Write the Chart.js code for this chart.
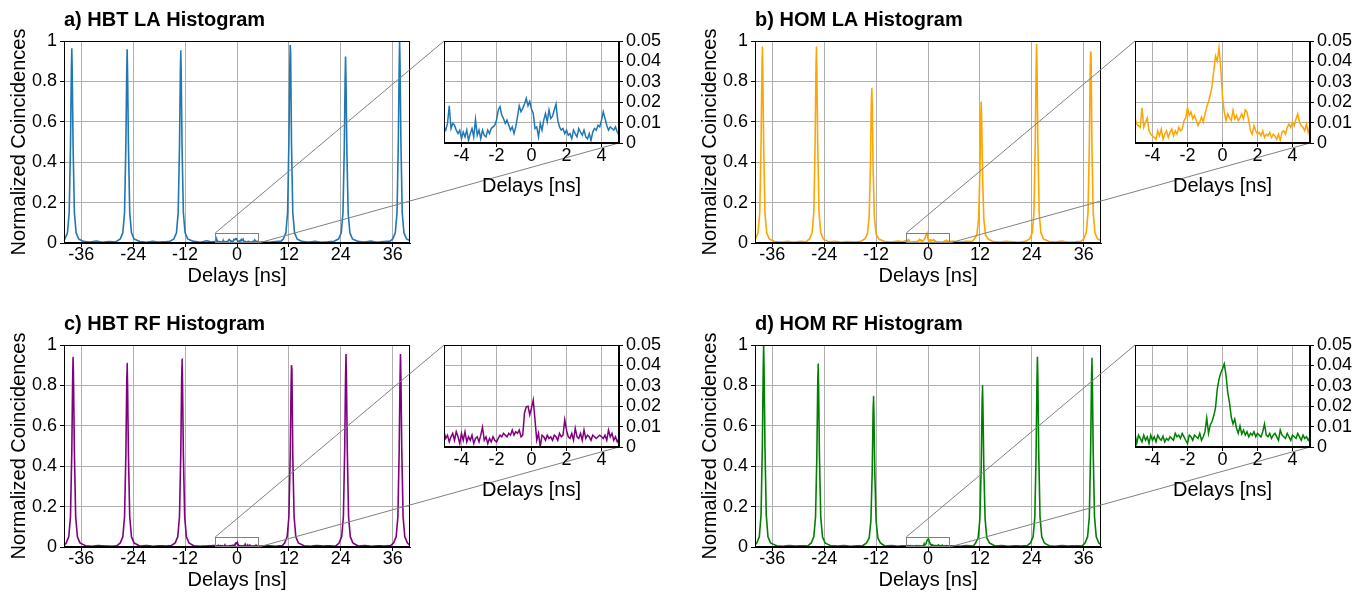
<!DOCTYPE html>
<html>
<head>
<meta charset="utf-8">
<script src="https://cdn.jsdelivr.net/npm/chart.js@4.4.0/dist/chart.umd.min.js"></script>
<style>
  html, body { margin: 0; padding: 0; background: #fff; }
  #page { position: relative; width: 1364px; height: 593px; overflow: hidden; }
  #page canvas { position: absolute; }
</style>
</head>
<body>
<div id="page"></div>
<script>
// tick positions
const mainTicks = [-36, -24, -12, 0, 12, 24, 36];
const mainYTicks = [0, 0.2, 0.4, 0.6, 0.8, 1];
const insetTicks = [-4, -2, 0, 2, 4];
const insetYTicks = [0, 0.01, 0.02, 0.03, 0.04, 0.05];
const zoomWindow = [-5, 5];  // delays shown in the inset
const zoomTop = 0.05;

// inset histogram bins (ns)
const insetDelays = [
  -5.0, -4.9, -4.8, -4.7, -4.6, -4.5, -4.4, -4.3, -4.2, -4.1,
  -4.0, -3.9, -3.8, -3.7, -3.6, -3.5, -3.4, -3.3, -3.2, -3.1,
  -3.0, -2.9, -2.8, -2.7, -2.6, -2.5, -2.4, -2.3, -2.2, -2.1,
  -2.0, -1.9, -1.8, -1.7, -1.6, -1.5, -1.4, -1.3, -1.2, -1.1,
  -1.0, -0.9, -0.8, -0.7, -0.6, -0.5, -0.4, -0.3, -0.2, -0.1,
  0.0, 0.1, 0.2, 0.3, 0.4, 0.5, 0.6, 0.7, 0.8, 0.9,
  1.0, 1.1, 1.2, 1.3, 1.4, 1.5, 1.6, 1.7, 1.8, 1.9,
  2.0, 2.1, 2.2, 2.3, 2.4, 2.5, 2.6, 2.7, 2.8, 2.9,
  3.0, 3.1, 3.2, 3.3, 3.4, 3.5, 3.6, 3.7, 3.8, 3.9,
  4.0, 4.1, 4.2, 4.3, 4.4, 4.5, 4.6, 4.7, 4.8, 4.9,
  5.0
];

// a) HBT LA
const insetA = [
  0.0079, 0.0063, 0.0096, 0.0182, 0.0071, 0.0096, 0.0087, 0.0063, 0.0046, 0.0063,
  0.0021, 0.0054, 0.0030, 0.0063, 0.0013, 0.0046, 0.0071, 0.0030, 0.0116, 0.0038,
  0.0063, 0.0021, 0.0063, 0.0038, 0.0030, 0.0063, 0.0046, 0.0071, 0.0079, 0.0087,
  0.0112, 0.0162, 0.0178, 0.0137, 0.0120, 0.0096, 0.0112, 0.0087, 0.0063, 0.0079,
  0.0046, 0.0079, 0.0129, 0.0182, 0.0153, 0.0170, 0.0191, 0.0219, 0.0182, 0.0203,
  0.0165, 0.0145, 0.0071, 0.0079, 0.0030, 0.0096, 0.0063, 0.0112, 0.0145, 0.0104,
  0.0162, 0.0120, 0.0132, 0.0162, 0.0191, 0.0112, 0.0079, 0.0063, 0.0071, 0.0046,
  0.0063, 0.0038, 0.0046, 0.0021, 0.0063, 0.0046, 0.0030, 0.0071, 0.0054, 0.0038,
  0.0063, 0.0030, 0.0021, 0.0046, 0.0013, 0.0054, 0.0071, 0.0063, 0.0087, 0.0079,
  0.0112, 0.0153, 0.0120, 0.0087, 0.0063, 0.0079, 0.0071, 0.0063, 0.0079, 0.0054,
  0.0038
];
const delaysA = [
  -40,
  -39.8, -39.2, -38.8, -38.5, -38.3, -38.2, -38.1, -37.9, -37.6, -37.2, -36.6,
  -35.5, -34, -32.5, -31, -29.5, -28,
  -27, -26.4, -26, -25.7, -25.5, -25.4, -25.3, -25.1, -24.8, -24.4, -23.8,
  -22.5, -21, -19.5, -18, -16.5, -15.5,
  -14.6, -14, -13.6, -13.3, -13.1, -13, -12.9, -12.7, -12.4, -12, -11.4,
  -10, -8.5, -7, -6,
  6, 7.5, 9, 10.2,
  10.7, 11.3, 11.7, 12, 12.2, 12.3, 12.4, 12.6, 12.9, 13.3, 13.9,
  15, 16.5, 18, 19.5, 21, 22.5,
  23.5, 24.1, 24.5, 24.8, 25, 25.1, 25.2, 25.4, 25.7, 26.1, 26.7,
  28, 29.5, 31, 32.5, 34, 35.4,
  36, 36.6, 37, 37.3, 37.5, 37.6, 37.7, 37.9, 38.2, 38.6, 39.2,
  40
];
const countsA = [
  0.012,
  0.02, 0.05, 0.15, 0.48, 0.85, 0.964, 0.85, 0.48, 0.15, 0.05, 0.02,
  0.008, 0.005, 0.009, 0.004, 0.007, 0.006,
  0.02, 0.05, 0.15, 0.48, 0.84, 0.959, 0.84, 0.48, 0.15, 0.05, 0.02,
  0.007, 0.004, 0.008, 0.005, 0.006, 0.009,
  0.02, 0.05, 0.15, 0.47, 0.84, 0.951, 0.84, 0.47, 0.15, 0.05, 0.02,
  0.008, 0.004, 0.011, 0.005,
  0.006, 0.004, 0.007, 0.009,
  0.02, 0.05, 0.15, 0.5, 0.86, 0.98, 0.94, 0.49, 0.15, 0.05, 0.02,
  0.008, 0.005, 0.008, 0.004, 0.006, 0.009,
  0.02, 0.05, 0.15, 0.46, 0.81, 0.923, 0.81, 0.46, 0.15, 0.05, 0.02,
  0.008, 0.005, 0.009, 0.004, 0.007, 0.009,
  0.02, 0.05, 0.15, 0.5, 0.88, 1.0, 0.88, 0.5, 0.15, 0.05, 0.02,
  0.012
];

// b) HOM LA
const insetB = [
  0.0123, 0.0093, 0.0085, 0.0077, 0.0173, 0.0077, 0.0102, 0.0123, 0.0060, 0.0043,
  0.0035, 0.0027, 0.0018, 0.0060, 0.0035, 0.0068, 0.0018, 0.0043, 0.0060, 0.0027,
  0.0052, 0.0068, 0.0035, 0.0060, 0.0043, 0.0077, 0.0060, 0.0068, 0.0110, 0.0123,
  0.0173, 0.0135, 0.0152, 0.0118, 0.0135, 0.0110, 0.0085, 0.0102, 0.0127, 0.0102,
  0.0143, 0.0177, 0.0202, 0.0235, 0.0277, 0.0352, 0.0427, 0.0402, 0.0468, 0.0368,
  0.0227, 0.0152, 0.0110, 0.0143, 0.0123, 0.0110, 0.0160, 0.0118, 0.0135, 0.0110,
  0.0123, 0.0143, 0.0118, 0.0163, 0.0152, 0.0110, 0.0060, 0.0043, 0.0085, 0.0060,
  0.0043, 0.0052, 0.0035, 0.0060, 0.0027, 0.0043, 0.0035, 0.0052, 0.0027, 0.0043,
  0.0035, 0.0018, 0.0043, 0.0013, 0.0052, 0.0060, 0.0043, 0.0077, 0.0093, 0.0077,
  0.0102, 0.0085, 0.0118, 0.0143, 0.0102, 0.0085, 0.0077, 0.0060, 0.0093, 0.0052,
  0.0090
];
const delaysB = [
  -40,
  -39.9, -39.3, -38.9, -38.6, -38.4, -38.3, -38.2, -38, -37.7, -37.3, -36.7,
  -35.5, -34, -32.5, -31, -29.5, -28.2,
  -27.4, -26.8, -26.4, -26.1, -25.9, -25.8, -25.7, -25.5, -25.2, -24.8, -24.2,
  -23, -21.5, -20, -18.5, -17, -15.5,
  -14.6, -14, -13.6, -13.3, -13.1, -13, -12.9, -12.7, -12.4, -12, -11.4,
  -10, -8.5, -7, -6,
  6, 7.5, 9, 10.2,
  10.7, 11.3, 11.7, 12, 12.2, 12.3, 12.4, 12.6, 12.9, 13.3, 13.9,
  15, 16.5, 18, 19.5, 21, 22.5,
  23.5, 24.1, 24.5, 24.8, 25, 25.1, 25.2, 25.4, 25.7, 26.1, 26.7,
  28, 29.5, 31, 32.5, 34, 35.4,
  36, 36.6, 37, 37.3, 37.5, 37.6, 37.7, 37.9, 38.2, 38.6, 39.2,
  40
];
const countsB = [
  0.014,
  0.02, 0.05, 0.15, 0.49, 0.86, 0.97, 0.86, 0.49, 0.15, 0.05, 0.02,
  0.007, 0.005, 0.008, 0.004, 0.009, 0.006,
  0.02, 0.05, 0.15, 0.49, 0.86, 0.97, 0.86, 0.49, 0.15, 0.05, 0.02,
  0.006, 0.008, 0.004, 0.007, 0.005, 0.008,
  0.02, 0.045, 0.13, 0.39, 0.70, 0.766, 0.70, 0.38, 0.13, 0.045, 0.02,
  0.007, 0.005, 0.010, 0.006,
  0.008, 0.005, 0.009, 0.007,
  0.02, 0.04, 0.12, 0.35, 0.62, 0.697, 0.62, 0.35, 0.12, 0.04, 0.02,
  0.007, 0.005, 0.008, 0.006, 0.004, 0.008,
  0.02, 0.05, 0.15, 0.5, 0.87, 0.985, 0.87, 0.5, 0.15, 0.05, 0.02,
  0.007, 0.005, 0.009, 0.004, 0.006, 0.009,
  0.02, 0.05, 0.15, 0.48, 0.84, 0.948, 0.935, 0.48, 0.15, 0.05, 0.02,
  0.012
];

// c) HBT RF
const insetC = [
  0.0075, 0.0042, 0.0058, 0.0025, 0.0050, 0.0067, 0.0033, 0.0075, 0.0050, 0.0017,
  0.0067, 0.0033, 0.0075, 0.0025, 0.0050, 0.0033, 0.0058, 0.0017, 0.0042, 0.0050,
  0.0025, 0.0058, 0.0097, 0.0033, 0.0050, 0.0017, 0.0042, 0.0025, 0.0050, 0.0033,
  0.0025, 0.0042, 0.0058, 0.0050, 0.0067, 0.0058, 0.0050, 0.0067, 0.0058, 0.0083,
  0.0058, 0.0075, 0.0067, 0.0083, 0.0050, 0.0058, 0.0167, 0.0197, 0.0200, 0.0158,
  0.0192, 0.0230, 0.0133, 0.0033, 0.0067, 0.0000, 0.0058, 0.0050, 0.0033, 0.0058,
  0.0042, 0.0050, 0.0033, 0.0058, 0.0050, 0.0033, 0.0067, 0.0050, 0.0058, 0.0133,
  0.0083, 0.0050, 0.0042, 0.0067, 0.0033, 0.0092, 0.0050, 0.0042, 0.0067, 0.0033,
  0.0083, 0.0042, 0.0058, 0.0050, 0.0033, 0.0058, 0.0050, 0.0042, 0.0050, 0.0058,
  0.0050, 0.0042, 0.0058, 0.0033, 0.0083, 0.0050, 0.0067, 0.0033, 0.0050, 0.0025,
  0.0042
];
const delaysC = [
  -40,
  -39.5, -38.9, -38.5, -38.2, -38, -37.9, -37.8, -37.6, -37.3, -36.9, -36.3,
  -35, -33.5, -32, -30.5, -29, -27.8,
  -27, -26.4, -26, -25.7, -25.5, -25.4, -25.3, -25.1, -24.8, -24.4, -23.8,
  -22.5, -21, -19.5, -18, -16.5, -15.2,
  -14.3, -13.7, -13.3, -13, -12.8, -12.7, -12.6, -12.4, -12.1, -11.7, -11.1,
  -10, -8.5, -7, -6,
  6, 7.5, 9, 10.5,
  11, 11.6, 12, 12.3, 12.5, 12.6, 12.7, 12.9, 13.2, 13.6, 14.2,
  15.5, 17, 18.5, 20, 21.5, 22.8,
  23.6, 24.2, 24.6, 24.9, 25.1, 25.2, 25.3, 25.5, 25.8, 26.2, 26.8,
  28, 29.5, 31, 32.5, 34, 35.5,
  36.2, 36.8, 37.2, 37.5, 37.7, 37.8, 37.9, 38.1, 38.4, 38.8, 39.4,
  40
];
const countsC = [
  0.008,
  0.02, 0.05, 0.15, 0.47, 0.83, 0.938, 0.83, 0.47, 0.15, 0.05, 0.02,
  0.006, 0.004, 0.007, 0.005, 0.004, 0.006,
  0.02, 0.05, 0.15, 0.45, 0.80, 0.908, 0.80, 0.45, 0.15, 0.05, 0.02,
  0.005, 0.007, 0.004, 0.006, 0.005, 0.007,
  0.02, 0.05, 0.15, 0.46, 0.82, 0.93, 0.82, 0.46, 0.15, 0.05, 0.02,
  0.006, 0.004, 0.005, 0.006,
  0.005, 0.006, 0.004, 0.007,
  0.02, 0.05, 0.15, 0.45, 0.79, 0.90, 0.88, 0.45, 0.15, 0.05, 0.02,
  0.006, 0.004, 0.007, 0.005, 0.006, 0.004,
  0.02, 0.05, 0.15, 0.48, 0.84, 0.955, 0.84, 0.48, 0.15, 0.05, 0.02,
  0.005, 0.007, 0.004, 0.006, 0.005, 0.007,
  0.02, 0.05, 0.15, 0.48, 0.84, 0.955, 0.84, 0.48, 0.15, 0.05, 0.02,
  0.008
];

// d) HOM RF
const insetD = [
  0.0067, 0.0017, 0.0058, 0.0042, 0.0025, 0.0058, 0.0033, 0.0050, 0.0017, 0.0058,
  0.0033, 0.0050, 0.0025, 0.0058, 0.0042, 0.0033, 0.0053, 0.0025, 0.0042, 0.0033,
  0.0050, 0.0042, 0.0033, 0.0067, 0.0050, 0.0058, 0.0042, 0.0067, 0.0050, 0.0033,
  0.0017, 0.0058, 0.0050, 0.0033, 0.0058, 0.0050, 0.0042, 0.0067, 0.0033, 0.0050,
  0.0075, 0.0142, 0.0067, 0.0108, 0.0125, 0.0153, 0.0192, 0.0283, 0.0333, 0.0363,
  0.0383, 0.0408, 0.0353, 0.0267, 0.0217, 0.0147, 0.0113, 0.0137, 0.0092, 0.0067,
  0.0103, 0.0063, 0.0083, 0.0058, 0.0075, 0.0050, 0.0067, 0.0058, 0.0075, 0.0050,
  0.0067, 0.0058, 0.0050, 0.0075, 0.0113, 0.0058, 0.0050, 0.0067, 0.0042, 0.0058,
  0.0067, 0.0050, 0.0033, 0.0083, 0.0058, 0.0050, 0.0042, 0.0067, 0.0050, 0.0033,
  0.0058, 0.0050, 0.0042, 0.0067, 0.0050, 0.0033, 0.0058, 0.0042, 0.0050, 0.0033,
  0.0050
];
const delaysD = [
  -40,
  -39.6, -39, -38.6, -38.3, -38.1, -38, -37.9, -37.7, -37.4, -37, -36.4,
  -35, -33.5, -32, -30.5, -29, -27.8,
  -27, -26.4, -26, -25.7, -25.5, -25.4, -25.3, -25.1, -24.8, -24.4, -23.8,
  -22.5, -21, -19.5, -18, -16.5, -15.2,
  -14.2, -13.6, -13.2, -12.9, -12.7, -12.6, -12.5, -12.3, -12, -11.6, -11,
  -10, -8.5, -7, -6,
  6, 7.5, 9, 10.5,
  11, 11.6, 12, 12.3, 12.5, 12.6, 12.7, 12.9, 13.2, 13.6, 14.2,
  15.5, 17, 18.5, 20, 21.5, 22.9,
  23.7, 24.3, 24.7, 25, 25.2, 25.3, 25.4, 25.6, 25.9, 26.3, 26.9,
  28, 29.5, 31, 32.5, 34, 35.6,
  36.3, 36.9, 37.3, 37.6, 37.8, 37.9, 38, 38.2, 38.5, 38.9, 39.5,
  40
];
const countsD = [
  0.010,
  0.02, 0.05, 0.16, 0.5, 0.88, 1.0, 0.88, 0.5, 0.16, 0.05, 0.02,
  0.006, 0.004, 0.007, 0.005, 0.006, 0.005,
  0.02, 0.05, 0.15, 0.45, 0.80, 0.906, 0.80, 0.45, 0.15, 0.05, 0.02,
  0.006, 0.005, 0.007, 0.004, 0.006, 0.005,
  0.02, 0.045, 0.13, 0.37, 0.66, 0.745, 0.66, 0.37, 0.13, 0.045, 0.02,
  0.005, 0.007, 0.004, 0.006,
  0.006, 0.004, 0.007, 0.005,
  0.02, 0.045, 0.14, 0.40, 0.70, 0.798, 0.70, 0.40, 0.14, 0.045, 0.02,
  0.005, 0.007, 0.004, 0.006, 0.005, 0.006,
  0.02, 0.05, 0.15, 0.47, 0.83, 0.942, 0.83, 0.47, 0.15, 0.05, 0.02,
  0.006, 0.004, 0.007, 0.005, 0.006, 0.005,
  0.02, 0.05, 0.15, 0.47, 0.82, 0.934, 0.82, 0.47, 0.15, 0.05, 0.02,
  0.010
];

const panels = [
  { title: "a) HBT LA Histogram", color: "#1f77b4", delays: delaysA, counts: countsA, inset: insetA, left: 0, top: 0 },
  { title: "b) HOM LA Histogram", color: "#ffa500", delays: delaysB, counts: countsB, inset: insetB, left: 691, top: 0 },
  { title: "c) HBT RF Histogram", color: "#800080", delays: delaysC, counts: countsC, inset: insetC, left: 0, top: 304 },
  { title: "d) HOM RF Histogram", color: "#008000", delays: delaysD, counts: countsD, inset: insetD, left: 691, top: 304 }
];

// inset plot box, relative to the panel's main canvas
const INSET = { left: 444, top: 41, width: 175, height: 102 };

Chart.defaults.font.family = '"Liberation Sans", Arial, sans-serif';
Chart.defaults.color = "#000";

const GRID = { color: "#b0b0b0", lineWidth: 1, tickColor: "#000", tickLength: 4 };
const TICK_FONT = { size: 18 };

// black box round every plot area
Chart.register({
  id: "frame",
  afterDraw(chart) {
    const a = chart.chartArea, ctx = chart.ctx;
    ctx.save();
    ctx.strokeStyle = "#000";
    ctx.lineWidth = 1;
    ctx.strokeRect(Math.round(a.left) + 0.5, Math.round(a.top) + 0.5,
      Math.round(a.right - a.left) - 1, Math.round(a.bottom - a.top) - 1);
    ctx.restore();
  }
});

const zoomLink = {
  id: "zoomLink",
  afterDraw(chart) {
    const { ctx, scales: { x, y } } = chart;
    const l = x.getPixelForValue(zoomWindow[0]), r = x.getPixelForValue(zoomWindow[1]);
    const b = y.getPixelForValue(0), t = y.getPixelForValue(zoomTop);
    ctx.save();
    ctx.strokeStyle = "#808080";
    ctx.lineWidth = 1;
    ctx.strokeRect(Math.round(l) + 0.5, Math.round(t) + 0.5, Math.round(r - l), Math.round(b - t) - 1);
    ctx.beginPath();
    ctx.moveTo(l, t);
    ctx.lineTo(INSET.left, INSET.top);
    ctx.moveTo(r, b);
    ctx.lineTo(INSET.left + INSET.width, INSET.top + INSET.height);
    ctx.stroke();
    ctx.restore();
  }
};

function makeCanvas(left, top, w, h) {
  const c = document.createElement("canvas");
  c.width = w;
  c.height = h;
  c.style.left = left + "px";
  c.style.top = top + "px";
  c.style.width = w + "px";
  c.style.height = h + "px";
  document.getElementById("page").appendChild(c);
  return c;
}

function pointsOf(xs, ys) {
  return xs.map((x, i) => ({ x: x, y: ys[i] }));
}

const fmt = (v) => String(v);

panels.forEach((p) => {
  const mainData = pointsOf(p.delays, p.counts)
    .concat(pointsOf(insetDelays, p.inset))
    .sort((u, v) => u.x - v.x);

  // main histogram
  new Chart(makeCanvas(p.left, p.top, 682, 300), {
    type: "line",
    data: {
      datasets: [{
        data: mainData,
        borderColor: p.color,
        borderWidth: 1.6,
        pointRadius: 0,
        tension: 0.0001,   // keeps chart.js off its per-pixel fast path
        fill: false
      }]
    },
    options: {
      responsive: false,
      animation: false,
      events: [],
      layout: { padding: { left: 0, right: 272, top: 0, bottom: 12 } },
      plugins: {
        legend: { display: false },
        tooltip: { enabled: false },
        title: {
          display: true,
          text: p.title,
          align: "start",
          fullSize: false,
          color: "#000",
          font: { size: 20, weight: "bold" },
          padding: { top: 8, bottom: 9 }
        }
      },
      scales: {
        x: {
          type: "linear",
          min: -40,
          max: 40,
          afterBuildTicks: (s) => { s.ticks = mainTicks.map((v) => ({ value: v })); },
          afterFit: (s) => { s.height = 45; },
          ticks: { font: TICK_FONT, padding: -3, maxRotation: 0, autoSkip: false, callback: fmt },
          grid: GRID,
          border: { color: "#000" },
          title: { display: true, text: "Delays [ns]", font: { size: 20 }, padding: 0 }
        },
        y: {
          min: 0,
          max: 1,
          afterBuildTicks: (s) => { s.ticks = mainYTicks.map((v) => ({ value: v })); },
          afterFit: (s) => { s.width = 64; },
          ticks: { font: TICK_FONT, padding: 3, autoSkip: false, callback: fmt },
          grid: GRID,
          border: { color: "#000" },
          title: { display: true, text: "Normalized Coincidences", font: { size: 20 }, padding: { top: 7, bottom: 0 } }
        }
      }
    },
    plugins: [zoomLink]
  });

  // zoomed inset round zero delay
  new Chart(makeCanvas(p.left + INSET.left - 10, p.top + INSET.top - 20, 240, 182), {
    type: "line",
    data: {
      datasets: [{
        data: pointsOf(insetDelays, p.inset),
        borderColor: p.color,
        borderWidth: 1.5,
        pointRadius: 0,
        tension: 0,
        fill: false
      }]
    },
    options: {
      responsive: false,
      animation: false,
      events: [],
      layout: { padding: { left: 10, right: 5, top: 20, bottom: 5 } },
      plugins: { legend: { display: false }, tooltip: { enabled: false } },
      scales: {
        x: {
          type: "linear",
          min: zoomWindow[0],
          max: zoomWindow[1],
          afterBuildTicks: (s) => { s.ticks = insetTicks.map((v) => ({ value: v })); },
          afterFit: (s) => { s.height = 55; },
          ticks: { font: TICK_FONT, padding: -2, maxRotation: 0, autoSkip: false, callback: fmt },
          grid: GRID,
          border: { color: "#000" },
          title: { display: true, text: "Delays [ns]", font: { size: 20 }, padding: 0 }
        },
        y: {
          position: "right",
          min: 0,
          max: zoomTop,
          afterBuildTicks: (s) => { s.ticks = insetYTicks.map((v) => ({ value: v })); },
          afterFit: (s) => { s.width = 50; },
          ticks: { font: TICK_FONT, padding: 3, autoSkip: false, callback: fmt },
          grid: GRID,
          border: { color: "#000" }
        }
      }
    }
  });
});
</script>
</body>
</html>
